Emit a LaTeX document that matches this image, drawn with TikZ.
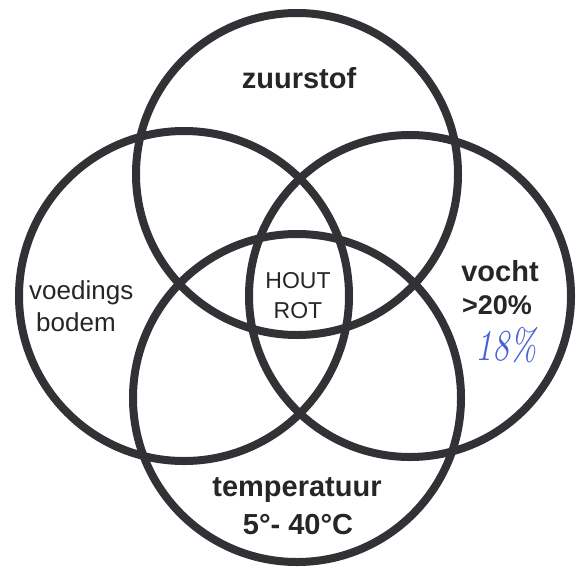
\documentclass[tikz,border=0pt]{standalone}
\usepackage{fontspec}
\usepackage{graphicx}
\setmainfont{Liberation Sans}
\definecolor{ring}{RGB}{50,50,54}
\definecolor{pen}{RGB}{70,95,215}
\begin{document}
\begin{tikzpicture}[x=1pt,y=-1pt,
  venn/.style={circle,draw=ring,line width=8pt,inner sep=0pt},
  boldlbl/.style={font=\fontsize{29}{31}\selectfont\bfseries,text=black!85,inner sep=0pt,align=center},
  reglbl/.style={font=\fontsize{26}{29}\selectfont,text=black!85,inner sep=0pt},
  hand/.style={font=\fontfamily{lmr}\fontsize{34}{34}\selectfont\itshape,text=pen,inner sep=0pt}]
\useasboundingbox (0,0) rectangle (585,568);
\fill[white] (0,0) rectangle (585,568);
% four circles
\node[venn,minimum size=322pt] (ctop) at (297,174) {};
\node[venn,minimum size=328pt] (cbot) at (297,398) {};
\node[venn,minimum size=330pt] (cleft) at (184,296) {};
\node[venn,minimum size=322pt] (cright) at (410,296) {};
% labels
\node[boldlbl] (lzuur) at (299,78) {zuurstof};
\node[reglbl,anchor=west] (lvoed) at (29,293) {voedings};
\node[reglbl,anchor=west] (lbod) at (36,322) {bodem};
\node[font=\fontsize{23}{25}\selectfont,text=black!85,inner sep=0pt] (lhout) at (298,281) {HOUT};
\node[font=\fontsize{23}{25}\selectfont,text=black!85,inner sep=0pt] (lrot) at (298,311) {ROT};
\node[boldlbl] (lvocht) at (500,271) {vocht};
\node[font=\fontsize{27}{29}\selectfont\bfseries,text=black!85,inner sep=0pt] (lproc) at (497,305) {>20\%};
\node[hand] (lhand) at (506,345) {\scalebox{1}[1.3]{18\%}};
\node[boldlbl] (ltemp) at (297,490) {temperatuur};
\node[boldlbl] (ldeg) at (298,525) {5°- 40°C};
\end{tikzpicture}
\end{document}
